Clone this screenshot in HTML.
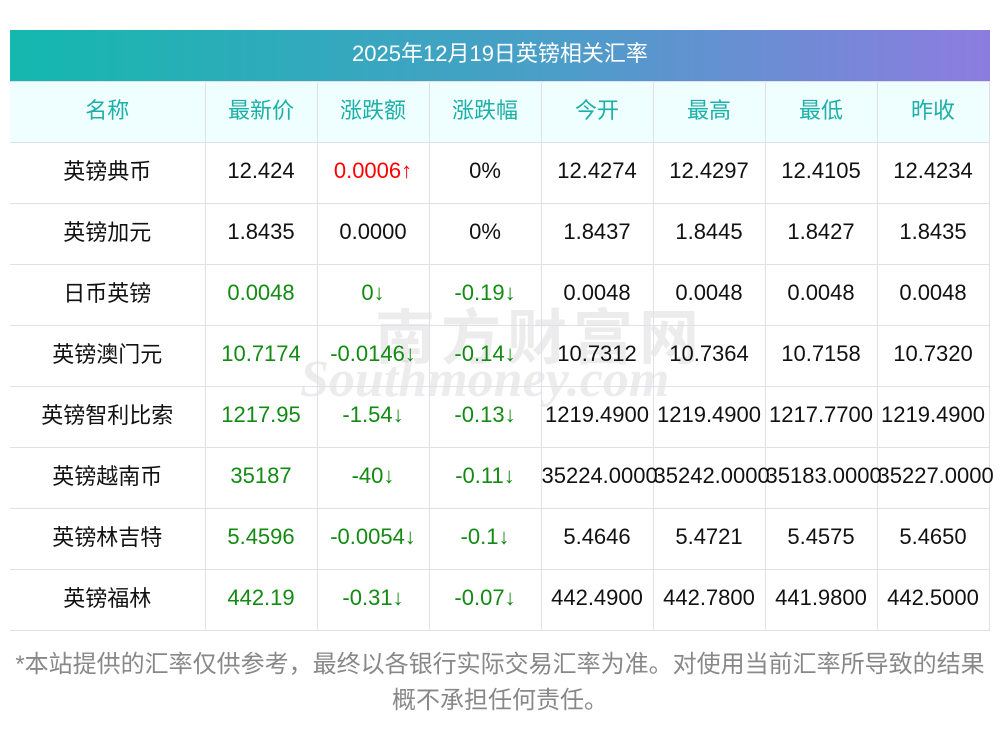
<!DOCTYPE html>
<html><head><meta charset="utf-8"><style>
body{margin:0;width:1000px;height:733px;background:#fff;position:relative;overflow:hidden;font-family:"Liberation Sans","Noto Sans CJK SC",sans-serif;}
.title{position:absolute;left:10px;top:30px;width:980px;height:51px;background:linear-gradient(90deg,#14b8ae,#4a9ec8 55%,#8d7ce0);color:#fff;font-size:22px;line-height:47px;text-align:center;}
table{position:absolute;left:10px;top:81px;border-collapse:collapse;table-layout:fixed;width:979px;}
td{border:1px solid #dfe1ea;height:60px;text-align:center;font-size:22px;color:#111;white-space:nowrap;overflow:visible;padding:0;}
td span{position:relative;top:-2px;}
td.c span{top:-3px;}
tr td:first-child{border-left:none;}
tr.h td{background:#effefe;color:#1cb0a8;}
.r{color:#f00}.g{color:#138a13}
.wm{position:absolute;color:rgba(200,200,200,0.35);font-weight:bold;}
.foot{position:absolute;left:0;top:647px;width:1000px;text-align:center;color:#888;font-size:24px;line-height:36px;letter-spacing:0px;}
</style></head><body>
<div class="title">2025年12月19日英镑相关汇率</div>
<div class="wm" style="left:375px;top:290px;font-size:60px;letter-spacing:6px;">南方财富网</div>
<div class="wm" style="left:300px;top:350px;font-size:52px;font-style:italic;font-family:'Liberation Serif',serif;">Southmoney.com</div>
<table>
<colgroup><col style="width:195px"><col style="width:112px"><col style="width:112px"><col style="width:112px"><col style="width:112px"><col style="width:112px"><col style="width:112px"><col style="width:112px"></colgroup>
<tr class="h"><td class="c"><span>名称</span></td><td class="c"><span>最新价</span></td><td class="c"><span>涨跌额</span></td><td class="c"><span>涨跌幅</span></td><td class="c"><span>今开</span></td><td class="c"><span>最高</span></td><td class="c"><span>最低</span></td><td class="c"><span>昨收</span></td></tr>
<tr><td class="c"><span>英镑典币</span></td><td><span>12.424</span></td><td class="r"><span>0.0006↑</span></td><td><span>0%</span></td><td><span>12.4274</span></td><td><span>12.4297</span></td><td><span>12.4105</span></td><td><span>12.4234</span></td></tr>
<tr><td class="c"><span>英镑加元</span></td><td><span>1.8435</span></td><td><span>0.0000</span></td><td><span>0%</span></td><td><span>1.8437</span></td><td><span>1.8445</span></td><td><span>1.8427</span></td><td><span>1.8435</span></td></tr>
<tr><td class="c"><span>日币英镑</span></td><td class="g"><span>0.0048</span></td><td class="g"><span>0↓</span></td><td class="g"><span>-0.19↓</span></td><td><span>0.0048</span></td><td><span>0.0048</span></td><td><span>0.0048</span></td><td><span>0.0048</span></td></tr>
<tr><td class="c"><span>英镑澳门元</span></td><td class="g"><span>10.7174</span></td><td class="g"><span>-0.0146↓</span></td><td class="g"><span>-0.14↓</span></td><td><span>10.7312</span></td><td><span>10.7364</span></td><td><span>10.7158</span></td><td><span>10.7320</span></td></tr>
<tr><td class="c"><span>英镑智利比索</span></td><td class="g"><span>1217.95</span></td><td class="g"><span>-1.54↓</span></td><td class="g"><span>-0.13↓</span></td><td><span>1219.4900</span></td><td><span>1219.4900</span></td><td><span>1217.7700</span></td><td><span>1219.4900</span></td></tr>
<tr><td class="c"><span>英镑越南币</span></td><td class="g"><span>35187</span></td><td class="g"><span>-40↓</span></td><td class="g"><span>-0.11↓</span></td><td><span>35224.0000</span></td><td><span>35242.0000</span></td><td><span>35183.0000</span></td><td><span>35227.0000</span></td></tr>
<tr><td class="c"><span>英镑林吉特</span></td><td class="g"><span>5.4596</span></td><td class="g"><span>-0.0054↓</span></td><td class="g"><span>-0.1↓</span></td><td><span>5.4646</span></td><td><span>5.4721</span></td><td><span>5.4575</span></td><td><span>5.4650</span></td></tr>
<tr><td class="c"><span>英镑福林</span></td><td class="g"><span>442.19</span></td><td class="g"><span>-0.31↓</span></td><td class="g"><span>-0.07↓</span></td><td><span>442.4900</span></td><td><span>442.7800</span></td><td><span>441.9800</span></td><td><span>442.5000</span></td></tr>
</table>
<div class="foot">*本站提供的汇率仅供参考，最终以各银行实际交易汇率为准。对使用当前汇率所导致的结果<br>概不承担任何责任。</div>
</body></html>
